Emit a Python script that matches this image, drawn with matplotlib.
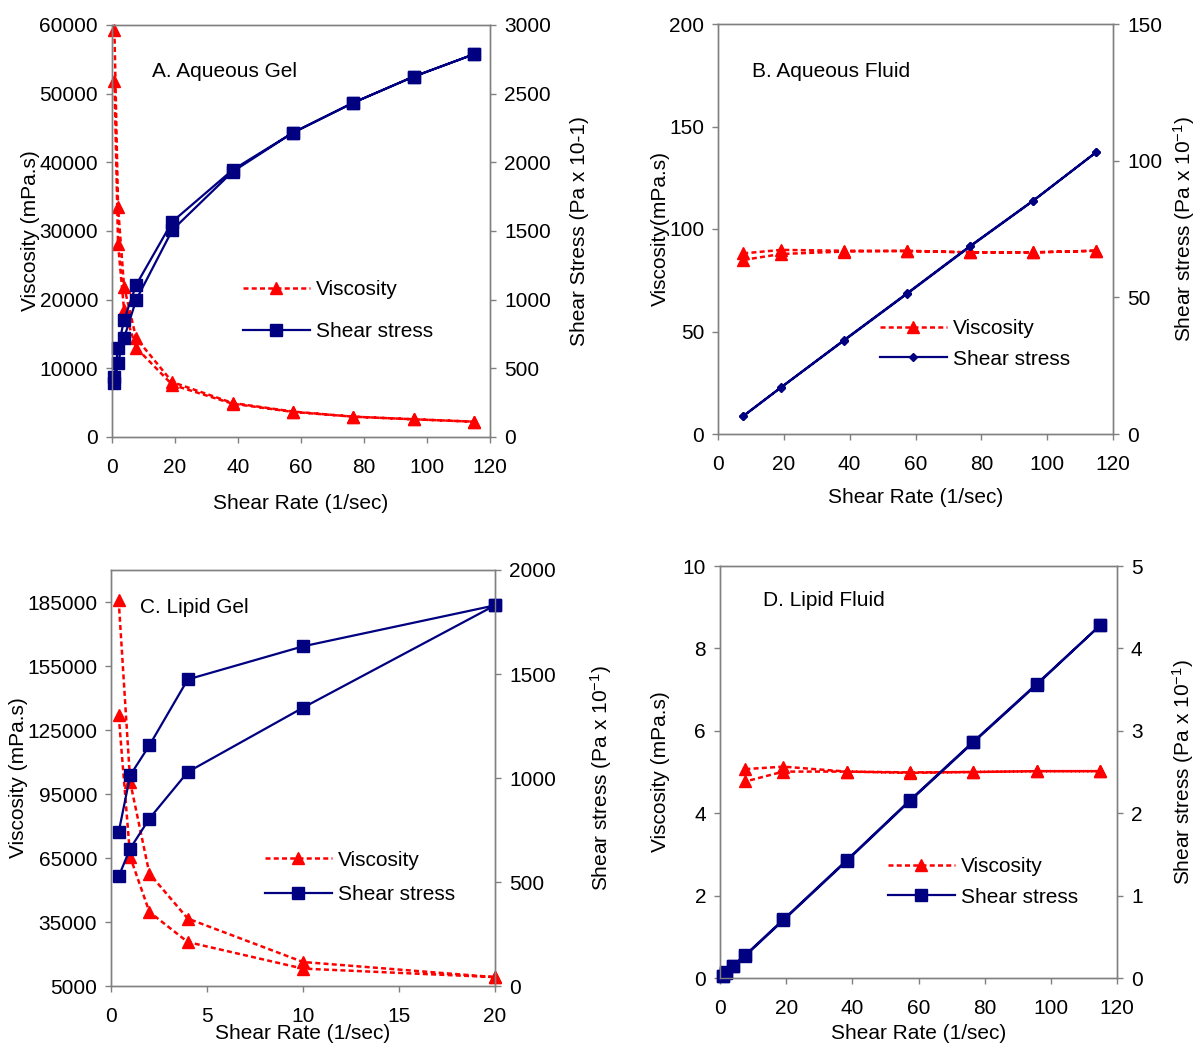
import matplotlib
matplotlib.use("Agg")
import matplotlib.pyplot as plt

plt.rcParams['font.family'] = ['Liberation Sans', 'DejaVu Sans']
plt.rcParams['mathtext.fontset'] = 'custom'
plt.rcParams['mathtext.rm'] = 'Liberation Sans'
plt.rcParams['mathtext.it'] = 'Liberation Sans'
plt.rcParams['font.size'] = 15

# A. Aqueous Gel (up / down ramp)
rate_a = [0.77, 1.92, 3.83, 7.66, 19.15, 38.3, 57.45, 76.6, 95.75, 114.9]
visc_a_up = [59200, 33500, 21900, 14400, 8000, 4950, 3700, 2960, 2580, 2230]
visc_a_down = [51900, 28100, 18500, 13000, 7600, 4850, 3650, 2960, 2580, 2230]
stress_a_up = [440, 648, 852, 1107, 1568, 1945, 2216, 2434, 2624, 2787]
stress_a_down = [393, 541, 721, 998, 1507, 1932, 2216, 2434, 2624, 2787]

# B. Aqueous Fluid
rate_b = [7.66, 19.15, 38.3, 57.45, 76.6, 95.75, 114.9]
visc_b_up = [88.1, 89.8, 89.4, 89.4, 88.6, 88.6, 89.4]
visc_b_down = [84.9, 87.8, 89.0, 89.2, 88.6, 88.6, 89.4]
stress_b_up = [6.6, 17.1, 34.4, 51.5, 68.8, 85.4, 103.1]
stress_b_down = [6.5, 17.0, 34.2, 51.3, 68.6, 85.3, 103.1]

# C. Lipid Gel
rate_c = [0.4, 1, 2, 4, 10, 20]
visc_c_up = [185800, 100600, 57700, 36600, 16250, 9150]
visc_c_down = [131900, 65500, 39700, 25600, 13150, 9150]
stress_c_up = [740, 1013, 1157, 1474, 1633, 1830]
stress_c_down = [527, 661, 805, 1029, 1338, 1830]

# D. Lipid Fluid
rate_d = [0.77, 1.92, 3.83, 7.66, 19.15, 38.3, 57.45, 76.6, 95.75, 114.9]
stress_d_up = [0.03, 0.07, 0.15, 0.27, 0.70, 1.42, 2.15, 2.86, 3.56, 4.28]
stress_d_down = [0.02, 0.06, 0.14, 0.28, 0.71, 1.43, 2.16, 2.87, 3.57, 4.28]
rate_d_visc = [7.66, 19.15, 38.3, 57.45, 76.6, 95.75, 114.9]
visc_d_up = [5.07, 5.13, 5.01, 4.99, 5.0, 5.02, 5.02]
visc_d_down = [4.77, 5.01, 5.01, 4.98, 5.0, 5.02, 5.02]

RED = '#ff0000'
NAVY = '#000080'
GREY = '#808080'
W, H = 1200, 1052
FS = 15

fig = plt.figure(figsize=(12, 10.52), dpi=100)


def rect(l, t, r, b):
    return [l / W, 1 - b / H, (r - l) / W, (b - t) / H]


def loop(x, up, down):
    # up ramp then back down
    return list(x) + list(x)[::-1], list(up) + list(down)[::-1]


def style(ax):
    for s in ax.spines.values():
        s.set_color(GREY)
        s.set_linewidth(1)
    ax.tick_params(direction='out', length=4, color=GREY, width=1, labelsize=FS)
    ax.tick_params(axis='x', pad=11)
    ax.tick_params(axis='y', pad=6)


def panel(box, title, title_pos, xlim, xticks, vx, vu, vd, ylim, yticks,
          sx, su, sd, ylim2, yticks2, ylab, ylab2, ylab_pos, ylab2_pos, xlab_y,
          leg_pos, leg_space, smarker='s', sms=8.5):
    ax = fig.add_axes(rect(*box))
    ax2 = ax.twinx()
    xx, yy = loop(vx, vu, vd)
    lv, = ax.plot(xx, yy, color=RED, lw=1.8, ls=(0, (2, 1.3)), marker='^',
                  ms=8.5, mec=RED, mfc=RED, clip_on=False, label='Viscosity')
    xx, yy = loop(sx, su, sd)
    ls_, = ax2.plot(xx, yy, color=NAVY, lw=1.6, marker=smarker, ms=sms,
                    mec=NAVY, mfc=NAVY, clip_on=False, label='Shear stress')
    ax.set_xlim(*xlim)
    ax.set_xticks(xticks)
    ax.set_ylim(*ylim)
    ax.set_yticks(yticks)
    ax2.set_ylim(*ylim2)
    ax2.set_yticks(yticks2)
    style(ax)
    style(ax2)
    ax.set_xlabel('Shear Rate (1/sec)', fontsize=FS)
    ax.xaxis.set_label_coords(0.5, xlab_y)
    ax.set_ylabel(ylab, fontsize=FS)
    ax.yaxis.set_label_coords(ylab_pos, 0.5)
    ax2.set_ylabel(ylab2, fontsize=FS)
    ax2.yaxis.set_label_coords(ylab2_pos, 0.5)
    ax.text(title_pos[0], title_pos[1], title, transform=ax.transAxes,
            fontsize=FS, va='center', ha='left')
    fig.legend(handles=[lv, ls_], loc='center left',
               bbox_to_anchor=(leg_pos[0] / W, 1 - leg_pos[1] / H),
               frameon=False, fontsize=FS, borderpad=0, borderaxespad=0,
               handlelength=3.2, handletextpad=0.3, labelspacing=leg_space,
               numpoints=1)
    return ax, ax2


sup = 'Shear stress (Pa x 10$^{\\mathregular{-1}}$)'

panel((112, 25, 490, 437), 'A. Aqueous Gel', (0.106, 0.886),
      (0, 120), range(0, 121, 20), rate_a, visc_a_up, visc_a_down,
      (0, 60000), range(0, 60001, 10000),
      rate_a, stress_a_up, stress_a_down, (0, 3000), range(0, 3001, 500),
      'Viscosity (mPa.s)', 'Shear Stress (Pa x 10-1)', -0.19, 1.212, -0.138,
      (243, 310.5), 1.1)

panel((718, 24, 1113, 434), 'B. Aqueous Fluid', (0.086, 0.885),
      (0, 120), range(0, 121, 20), rate_b, visc_b_up, visc_b_down,
      (0, 200), range(0, 201, 50),
      rate_b, stress_b_up, stress_b_down, (0, 150), range(0, 151, 50),
      'Viscosity(mPa.s)', sup, -0.122, 1.147, -0.132,
      (880, 344), 0.55, smarker='D', sms=4.5)

panel((111, 570, 495, 986), 'C. Lipid Gel', (0.0755, 0.911),
      (0, 20), range(0, 21, 5), rate_c, visc_c_up, visc_c_down,
      (5000, 200000), range(5000, 185001, 30000),
      rate_c, stress_c_up, stress_c_down, (0, 2000), range(0, 2001, 500),
      'Viscosity (mPa.s)', sup, -0.216, 1.242, -0.091,
      (265, 877.5), 0.75)

panel((720, 566, 1117, 978), 'D. Lipid Fluid', (0.108, 0.917),
      (0, 120), range(0, 121, 20), rate_d_visc, visc_d_up, visc_d_down,
      (0, 10), range(0, 11, 2),
      rate_d, stress_d_up, stress_d_down, (0, 5), range(0, 6, 1),
      'Viscosity (mPa.s)', sup, -0.126, 1.134, -0.112,
      (888, 882), 0.55)

fig.savefig('out.png', dpi=100)
